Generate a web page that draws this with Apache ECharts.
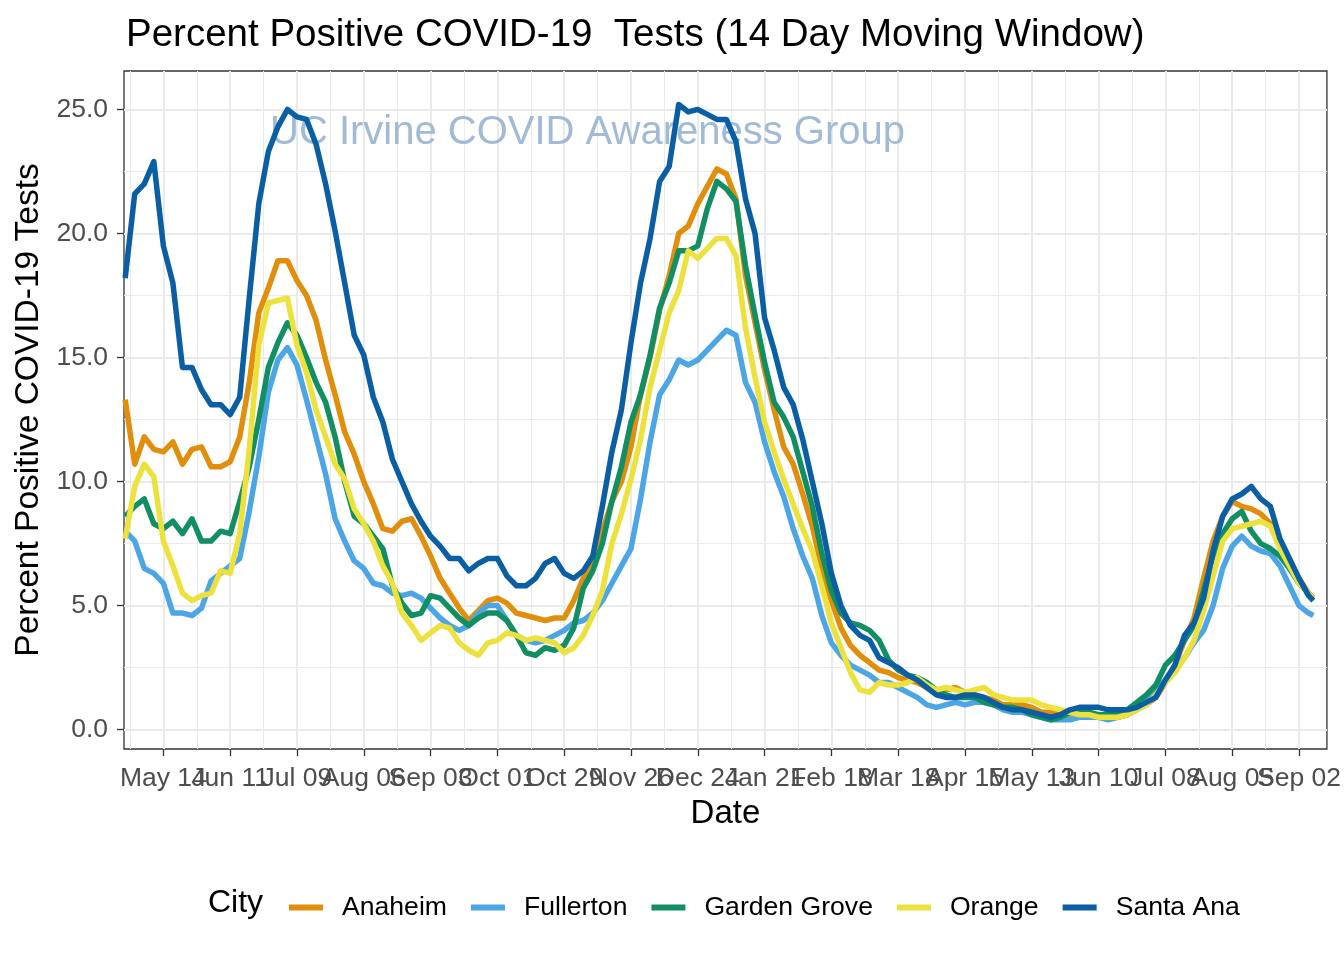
<!DOCTYPE html>
<html><head><meta charset="utf-8">
<script src="https://cdn.jsdelivr.net/npm/echarts@6/dist/echarts.min.js"></script>
<style>html,body{margin:0;padding:0;background:#fff}#c{width:1344px;height:960px}</style>
</head><body><div id="c"></div>
<script>
const dates = ['2020-04-28','2020-05-02','2020-05-06','2020-05-10','2020-05-14','2020-05-18','2020-05-22','2020-05-26','2020-05-30','2020-06-03',
'2020-06-07','2020-06-11','2020-06-15','2020-06-19','2020-06-23','2020-06-27','2020-07-01','2020-07-05','2020-07-09','2020-07-13',
'2020-07-17','2020-07-21','2020-07-25','2020-07-29','2020-08-02','2020-08-06','2020-08-10','2020-08-14','2020-08-18','2020-08-22',
'2020-08-26','2020-08-30','2020-09-03','2020-09-07','2020-09-11','2020-09-15','2020-09-19','2020-09-23','2020-09-27','2020-10-01',
'2020-10-05','2020-10-09','2020-10-13','2020-10-17','2020-10-21','2020-10-25','2020-10-29','2020-11-02','2020-11-06','2020-11-10',
'2020-11-14','2020-11-18','2020-11-22','2020-11-26','2020-11-30','2020-12-04','2020-12-08','2020-12-12','2020-12-16','2020-12-20',
'2020-12-24','2020-12-28','2021-01-01','2021-01-05','2021-01-09','2021-01-13','2021-01-17','2021-01-21','2021-01-25','2021-01-29',
'2021-02-02','2021-02-06','2021-02-10','2021-02-14','2021-02-18','2021-02-22','2021-02-26','2021-03-02','2021-03-06','2021-03-10',
'2021-03-14','2021-03-18','2021-03-22','2021-03-26','2021-03-30','2021-04-03','2021-04-07','2021-04-11','2021-04-15','2021-04-19',
'2021-04-23','2021-04-27','2021-05-01','2021-05-05','2021-05-09','2021-05-13','2021-05-17','2021-05-21','2021-05-25','2021-05-29',
'2021-06-02','2021-06-06','2021-06-10','2021-06-14','2021-06-18','2021-06-22','2021-06-26','2021-06-30','2021-07-04','2021-07-08',
'2021-07-12','2021-07-16','2021-07-20','2021-07-24','2021-07-28','2021-08-01','2021-08-05','2021-08-09','2021-08-13','2021-08-17',
'2021-08-21','2021-08-25','2021-08-29','2021-09-02','2021-09-06','2021-09-08'];

const anaheim = [13.3,10.7,11.8,11.3,11.2,11.6,10.7,11.3,11.4,10.6,10.6,10.8,11.8,14.0,16.8,17.8,18.9,18.9,18.1,17.5,
16.5,14.9,13.5,12.0,11.1,10.0,9.1,8.1,8.0,8.4,8.5,7.8,7.0,6.1,5.5,4.9,4.4,4.8,5.2,5.3,
5.1,4.7,4.6,4.5,4.4,4.5,4.5,5.2,6.1,6.9,8.0,9.2,10.0,11.4,13.5,15.0,16.9,18.3,20.0,20.3,
21.2,21.9,22.6,22.4,21.4,18.3,16.4,14.5,12.9,11.4,10.7,9.5,8.2,6.5,5.2,4.1,3.4,3.0,2.7,2.4,
2.3,2.1,2.0,1.9,1.7,1.6,1.6,1.7,1.5,1.4,1.3,1.2,1.0,1.0,1.0,0.9,0.7,0.7,0.7,0.6,
0.6,0.5,0.5,0.5,0.5,0.6,0.8,1.0,1.3,1.9,2.6,3.6,4.5,6.1,7.6,8.6,9.2,9.0,8.9,8.7,
8.3,7.6,6.8,6.1,5.5,5.3];

const fullerton = [8.0,7.6,6.5,6.3,5.9,4.7,4.7,4.6,4.9,6.0,6.3,6.6,6.9,8.8,11.0,13.6,14.9,15.4,14.7,13.3,
11.8,10.3,8.5,7.6,6.8,6.5,5.9,5.8,5.5,5.4,5.5,5.3,4.9,4.5,4.2,4.0,4.2,4.7,5.0,5.0,
4.4,3.8,3.6,3.5,3.6,3.8,4.0,4.3,4.4,4.7,5.2,5.9,6.6,7.3,9.3,11.6,13.5,14.1,14.9,14.7,
14.9,15.3,15.7,16.1,15.9,14.0,13.2,11.6,10.4,9.4,8.1,7.0,6.1,4.6,3.5,3.0,2.6,2.4,2.2,1.9,
1.9,1.7,1.5,1.3,1.0,0.9,1.0,1.1,1.0,1.1,1.1,1.0,0.8,0.7,0.7,0.6,0.5,0.4,0.4,0.4,
0.5,0.5,0.5,0.4,0.5,0.6,1.0,1.3,1.6,2.0,2.4,2.9,3.5,4.0,5.0,6.5,7.4,7.8,7.4,7.2,
7.1,6.6,5.8,5.0,4.7,4.6];

const gardenGrove = [8.6,9.0,9.3,8.3,8.1,8.4,7.9,8.5,7.6,7.6,8.0,7.9,9.2,10.6,12.5,14.6,15.6,16.4,15.9,15.0,
14.0,13.2,11.8,10.0,8.6,8.3,7.8,7.3,5.8,5.1,4.6,4.7,5.4,5.3,4.9,4.5,4.2,4.5,4.7,4.7,
4.4,3.8,3.1,3.0,3.3,3.2,3.4,4.1,5.7,6.4,7.5,9.2,10.6,12.4,13.5,15.1,17.0,18.0,19.3,19.3,
19.5,21.0,22.1,21.8,21.3,18.7,16.7,14.8,13.2,12.6,11.8,10.4,9.0,7.1,5.6,4.7,4.3,4.2,4.0,3.6,
2.8,2.4,2.2,2.1,1.9,1.6,1.4,1.3,1.3,1.3,1.1,1.0,0.9,0.9,0.8,0.6,0.5,0.4,0.5,0.7,
0.7,0.7,0.6,0.6,0.7,0.8,1.1,1.4,1.8,2.6,3.0,3.6,4.2,5.6,7.0,7.9,8.5,8.8,8.0,7.5,
7.3,7.0,6.5,5.9,5.5,5.3];

const orange = [7.7,9.8,10.7,10.2,7.6,6.6,5.5,5.2,5.4,5.5,6.4,6.3,7.9,11.3,15.5,17.2,17.3,17.4,15.5,14.4,
12.9,11.8,10.7,10.1,8.9,8.3,7.6,6.6,5.9,4.7,4.2,3.6,3.9,4.2,4.1,3.5,3.2,3.0,3.5,3.6,
3.9,3.8,3.6,3.7,3.6,3.5,3.1,3.3,3.8,4.6,5.6,7.5,8.7,10.1,11.7,13.8,15.3,16.8,17.7,19.3,
19.0,19.4,19.8,19.8,19.1,16.2,14.2,12.4,11.2,10.1,9.1,8.1,7.2,5.8,4.3,3.3,2.3,1.6,1.5,1.9,
1.8,1.8,1.9,2.1,1.8,1.6,1.7,1.6,1.5,1.6,1.7,1.4,1.3,1.2,1.2,1.2,1.0,0.9,0.8,0.7,
0.6,0.6,0.5,0.5,0.5,0.6,0.8,1.0,1.4,1.9,2.3,2.9,3.6,4.8,6.2,7.6,8.1,8.2,8.3,8.4,
8.2,7.3,6.6,5.9,5.5,5.3];

const santaAna = [18.2,21.6,22.0,22.9,19.5,18.0,14.6,14.6,13.7,13.1,13.1,12.7,13.4,17.4,21.2,23.3,24.3,25.0,24.7,24.6,
23.6,22.0,20.1,18.0,15.9,15.1,13.4,12.4,10.9,10.0,9.1,8.4,7.8,7.4,6.9,6.9,6.4,6.7,6.9,6.9,
6.2,5.8,5.8,6.1,6.7,6.9,6.3,6.1,6.4,7.0,9.0,11.2,12.9,15.6,18.0,19.8,22.1,22.7,25.2,24.9,
25.0,24.8,24.6,24.6,23.7,21.4,20.0,16.6,15.3,13.8,13.1,11.7,10.0,8.3,6.3,5.0,4.2,3.8,3.6,2.9,
2.7,2.5,2.2,2.0,1.7,1.4,1.3,1.3,1.4,1.4,1.3,1.1,0.9,0.8,0.8,0.7,0.6,0.5,0.6,0.8,
0.9,0.9,0.9,0.8,0.8,0.8,0.9,1.1,1.3,2.0,2.6,3.8,4.3,5.3,7.2,8.6,9.3,9.5,9.8,9.3,
9.0,7.7,6.9,6.1,5.4,5.2];

const cities = ['Anaheim','Fullerton','Garden Grove','Orange','Santa Ana'];
const cityValues = [anaheim, fullerton, gardenGrove, orange, santaAna];
const cityColors = ['#E08E0B','#4CA5E4','#128F62','#EDE13E','#0A5FA4'];

const tickDates = ['2020-05-14','2020-06-11','2020-07-09','2020-08-06','2020-09-03','2020-10-01','2020-10-29','2020-11-26','2020-12-24',
'2021-01-21','2021-02-18','2021-03-18','2021-04-15','2021-05-13','2021-06-10','2021-07-08','2021-08-05','2021-09-02'];
const tickLabels = ['May 14','Jun 11','Jul 09','Aug 06','Sep 03','Oct 01','Oct 29','Nov 26','Dec 24',
'Jan 21','Feb 18','Mar 18','Apr 15','May 13','Jun 10','Jul 08','Aug 05','Sep 02'];
const yTicks = [0, 5, 10, 15, 20, 25];
const yTickLabels = ['0.0','5.0','10.0','15.0','20.0','25.0'];

const DAY0 = Date.UTC(2020, 4, 14);
const toDay = s => (Date.parse(s + 'T00:00:00Z') - DAY0) / 86400000;
const dayX = dates.map(toDay);
const tickDays = tickDates.map(toDay);
const evenTickDays = tickDays.filter((d, i) => i % 2 === 0);
const oddTickDays = tickDays.filter((d, i) => i % 2 === 1);
const minorDays = tickDays.map(d => d - 14);
const yMinor = yTicks.slice(0, -1).map(v => v + 2.5);

const X_MIN = -16.5, X_MAX = 487.7, Y_MIN = -0.78, Y_MAX = 26.55;
const FONT = '"Liberation Sans", Arial, Helvetica, sans-serif';

const chart = echarts.init(document.getElementById('c'), null, {renderer: 'canvas'});
const lineStyleTick = {color: '#333333', width: 1.3};
const xLabelFmt = v => { const i = tickDays.findIndex(t => Math.abs(t - v) < 0.01); return i >= 0 ? tickLabels[i] : ''; };
const xLabelBase = {hideOverlap: false, showMinLabel: true, showMaxLabel: true,
  fontSize: 26.5, color: '#4D4D4D', margin: 16, fontFamily: FONT, formatter: xLabelFmt};

const option = {
  animation: false,
  backgroundColor: '#ffffff',
  textStyle: {fontFamily: FONT},
  title: {
    text: 'Percent Positive COVID-19  Tests (14 Day Moving Window)',
    left: 121, top: 11,
    textStyle: {fontSize: 38.5, fontWeight: 'normal', color: '#000', fontFamily: FONT}
  },
  grid: {left: 124, right: 17, top: 71, bottom: 211, show: true, borderColor: '#333333', borderWidth: 1.3, backgroundColor: 'rgba(0,0,0,0)'},
  legend: {
    data: cities, left: 284, top: 889, icon: 'rect', itemWidth: 34, itemHeight: 6, itemGap: 24,
    textStyle: {fontSize: 26.6, color: '#000', fontFamily: FONT, padding: [0, 0, 0, 14]}
  },
  graphic: [
    {type: 'text', left: 208, top: 887, z: 10, style: {text: 'City', fontSize: 32, fill: '#000', fontFamily: FONT}},
    {type: 'text', left: 270, top: 113, z: 1, style: {text: 'UC Irvine COVID Awareness Group', fontSize: 40, fill: '#A1BAD6', fontFamily: FONT}}
  ],
  xAxis: [
    {
      type: 'value', min: X_MIN, max: X_MAX,
      name: 'Date', nameLocation: 'middle', nameGap: 48,
      nameTextStyle: {fontSize: 33, color: '#000', fontFamily: FONT},
      axisLine: {show: false, onZero: false},
      axisTick: {show: true, customValues: tickDays, length: 7, lineStyle: lineStyleTick},
      axisLabel: Object.assign({customValues: evenTickDays}, xLabelBase),
      splitLine: {show: true, lineStyle: {color: '#EBEBEB', width: 2}}
    },
    {
      type: 'value', min: X_MIN, max: X_MAX, position: 'bottom',
      axisLine: {show: false, onZero: false},
      axisTick: {show: false, customValues: minorDays},
      axisLabel: {show: false, customValues: minorDays},
      splitLine: {show: true, lineStyle: {color: '#EBEBEB', width: 1}}
    },
    {
      type: 'value', min: X_MIN, max: X_MAX, position: 'bottom',
      axisLine: {show: false, onZero: false},
      axisTick: {show: false, customValues: oddTickDays},
      axisLabel: Object.assign({customValues: oddTickDays}, xLabelBase),
      splitLine: {show: false}
    }
  ],
  yAxis: [
    {
      type: 'value', min: Y_MIN, max: Y_MAX,
      name: 'Percent Positive COVID-19 Tests', nameLocation: 'middle', nameGap: 73, nameRotate: 90,
      nameTextStyle: {fontSize: 33.5, color: '#000', fontFamily: FONT},
      axisLine: {show: false, onZero: false},
      axisTick: {show: true, customValues: yTicks, length: 7, lineStyle: lineStyleTick},
      axisLabel: {customValues: yTicks, showMinLabel: true, showMaxLabel: true, fontSize: 26.5, color: '#4D4D4D', margin: 16, fontFamily: FONT,
        formatter: v => { const i = yTicks.findIndex(t => Math.abs(t - v) < 0.001); return i >= 0 ? yTickLabels[i] : ''; }},
      splitLine: {show: true, lineStyle: {color: '#EBEBEB', width: 2}}
    },
    {
      type: 'value', min: Y_MIN, max: Y_MAX, position: 'left',
      axisLine: {show: false, onZero: false},
      axisTick: {show: false, customValues: yMinor},
      axisLabel: {show: false, customValues: yMinor},
      splitLine: {show: true, lineStyle: {color: '#EBEBEB', width: 1}}
    }
  ],
  series: cities.map((name, k) => ({
    name, type: 'line', xAxisIndex: 0, yAxisIndex: 0, z: 2 + k,
    showSymbol: false, symbol: 'none', smooth: false,
    color: cityColors[k],
    itemStyle: {color: cityColors[k]},
    lineStyle: {color: cityColors[k], width: 5.5, join: 'round', cap: 'butt'},
    emphasis: {disabled: true},
    data: cityValues[k].map((v, i) => [dayX[i], v])
  }))
};
chart.setOption(option);
</script>
</body></html>
